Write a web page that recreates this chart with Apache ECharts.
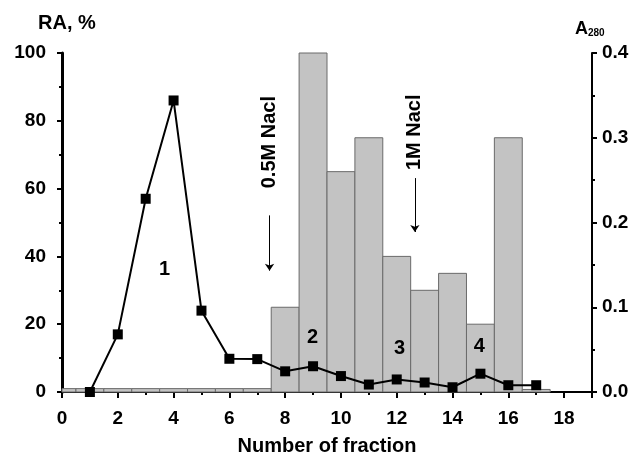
<!DOCTYPE html>
<html><head><meta charset="utf-8">
<script src="https://cdn.jsdelivr.net/npm/echarts@6/dist/echarts.min.js"></script>
<style>html,body{margin:0;padding:0;background:#fff}#c{width:636px;height:461px}</style>
</head><body><div id="c"></div>
<script>
// ---- data ----
const lineFractions = [1,2,3,4,5,6,7,8,9,10,11,12,13,14,15,16,17];
const raValues      = [0,17,57,86,24,9.8,9.7,6.1,7.6,4.7,2.2,3.7,2.8,1.4,5.4,2.0,2.0];
const barFractions  = [0,1,2,3,4,5,6,7,8,9,10,11,12,13,14,15,16,17];
const a280Values    = [0.004,0.004,0.004,0.004,0.004,0.004,0.004,0.004,0.10,0.40,0.26,0.30,0.16,0.12,0.14,0.08,0.30,0.003];
const peakLabels    = ['1','2','3','4'];
const peakLabelX    = [3.68,8.98,12.1,14.96];
const peakLabelY    = [36.1,16.1,12.9,13.5];
const saltLabels    = ['0.5M Nacl','1M Nacl'];
const saltX         = [7.44,12.65];
const saltTextY     = [73.7,76.6];
const saltArrowFrom = [52.1,63.1];
const saltArrowTo   = [35.8,47.2];

const FONT = '"Liberation Sans", Arial, Helvetica, sans-serif';
const chart = echarts.init(document.getElementById('c'), null, {renderer:'canvas'});
const axisText = {color:'#000', fontFamily:FONT, fontWeight:'bold', fontSize:19};

const option = {
  animation:false,
  backgroundColor:'#fff',
  grid:{left:62, right:44, top:53, bottom:63},
  xAxis:{
    type:'value', min:0, max:19, interval:2,
    name:'Number of fraction', nameLocation:'middle', nameGap:44,
    nameTextStyle:{color:'#000', fontFamily:FONT, fontWeight:'bold', fontSize:20},
    axisLine:{onZero:false, lineStyle:{color:'#000', width:2}},
    axisTick:{show:true, inside:false, length:6, lineStyle:{color:'#000', width:2}},
    minorTick:{show:true, splitNumber:2, length:3, lineStyle:{color:'#000', width:2}},
    splitLine:{show:false},
    axisLabel:Object.assign({margin:17, formatter:v=> (v>18?'':String(v))}, axisText)
  },
  yAxis:[{
    type:'value', min:0, max:100, interval:20, position:'left',
    axisLine:{show:true, lineStyle:{color:'#000', width:3}},
    axisTick:{show:true, inside:false, length:5, lineStyle:{color:'#000', width:2}},
    minorTick:{show:true, splitNumber:2, length:3, lineStyle:{color:'#000', width:2}},
    splitLine:{show:false},
    axisLabel:Object.assign({margin:16}, axisText)
  },{
    type:'value', min:0, max:0.4, interval:0.1, position:'right',
    axisLine:{show:true, lineStyle:{color:'#000', width:2}},
    axisTick:{show:true, inside:false, length:5, lineStyle:{color:'#000', width:2}},
    minorTick:{show:true, splitNumber:2, length:3, lineStyle:{color:'#000', width:2}},
    splitLine:{show:false},
    axisLabel:Object.assign({margin:10, formatter:v=>v.toFixed(1)}, axisText)
  }],
  series:[{
    type:'custom', xAxisIndex:0, yAxisIndex:1, z:2,
    data: barFractions.map((x,i)=>[x, a280Values[i]]),
    renderItem:function(params, api){
      const x = api.value(0), v = api.value(1);
      const p0 = api.coord([x-0.5, v]);
      const p1 = api.coord([x+0.5, 0]);
      const cs = params.coordSys;
      const r = echarts.graphic.clipRectByRect(
        {x:p0[0], y:p0[1], width:p1[0]-p0[0], height:p1[1]-p0[1]},
        {x:cs.x, y:cs.y, width:cs.width, height:cs.height});
      return r && {type:'rect', shape:r, style:{fill:'#c3c3c3', stroke:'#6a6a6a', lineWidth:1}};
    }
  },{
    type:'line', xAxisIndex:0, yAxisIndex:0, z:5,
    data: lineFractions.map((x,i)=>[x, raValues[i]]),
    symbol:'rect', symbolSize:10, showSymbol:true,
    itemStyle:{color:'#000'},
    lineStyle:{color:'#000', width:2},
    markLine:{
      silent:true, symbol:['none','arrow'], symbolSize:7, precision:3,
      lineStyle:{color:'#000', width:1, type:'solid'},
      label:{show:false},
      data: saltX.map((x,i)=>[{coord:[x, saltArrowFrom[i]]},{coord:[x, saltArrowTo[i]]}])
    }
  }]
};
chart.setOption(option);

const g = [];
peakLabels.forEach((t,i)=>{
  const p = chart.convertToPixel({xAxisIndex:0, yAxisIndex:0}, [peakLabelX[i], peakLabelY[i]]);
  g.push({type:'text', x:p[0], y:p[1], z:10,
    style:{text:t, fill:'#000', font:'bold 20px '+FONT, textAlign:'center', textVerticalAlign:'middle'}});
});
saltLabels.forEach((t,i)=>{
  const p = chart.convertToPixel({xAxisIndex:0, yAxisIndex:0}, [saltX[i], saltTextY[i]]);
  g.push({type:'text', x:p[0], y:p[1], rotation:Math.PI/2, z:10,
    style:{text:t, fill:'#000', font:'bold 20px '+FONT, textAlign:'center', textVerticalAlign:'middle'}});
});
g.push({type:'text', left:38, top:13, style:{text:'RA, %', fill:'#000', font:'bold 20px '+FONT}});
g.push({type:'text', left:575, top:20, style:{
  text:'{a|A}{s|280}', fill:'#000',
  rich:{a:{fontFamily:FONT, fontWeight:'bold', fontSize:18, color:'#000', verticalAlign:'bottom'},
        s:{fontFamily:FONT, fontWeight:'bold', fontSize:10, color:'#000', padding:[8,0,0,0], verticalAlign:'bottom'}}}});
chart.setOption({graphic:g});
</script></body></html>
